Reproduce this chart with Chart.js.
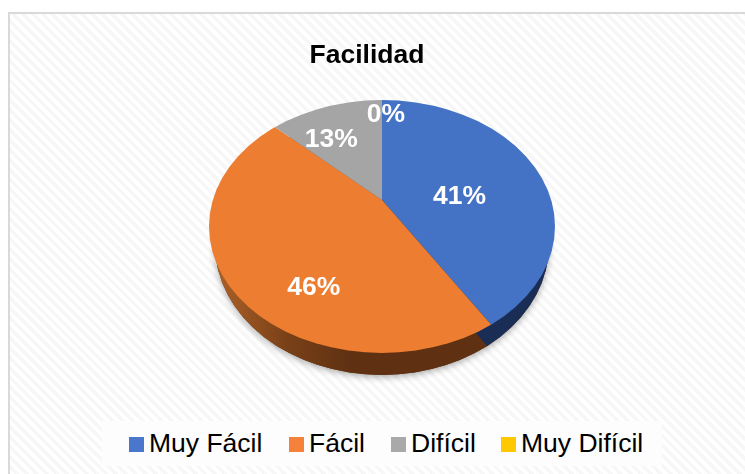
<!DOCTYPE html>
<html lang="es">
<head>
<meta charset="utf-8">
<style>
  html,body{margin:0;padding:0;background:#fff;width:745px;height:474px;overflow:hidden;}
  #frame{position:absolute;left:8px;top:12px;width:737px;height:462px;box-sizing:border-box;
    border-left:2px solid #d9d9d9;border-top:2px solid #d9d9d9;
    background:repeating-linear-gradient(45deg,#ffffff 0,#ffffff 3.5px,#f7f7f7 3.5px,#f7f7f7 7px);}
  canvas{position:absolute;left:0;top:0;}
  #legend{position:absolute;left:102px;top:421px;width:560px;height:45px;background:#fdfdfd;
    font:26.5px "Liberation Sans",Arial,sans-serif;color:#000;}
  #legend span.item{position:absolute;top:0;height:45px;line-height:45px;white-space:nowrap;}
  #legend i{position:absolute;top:16px;left:0;width:15px;height:15px;}
  #legend b{font-weight:400;position:absolute;left:20px;top:0;}
</style>
<script src="https://cdn.jsdelivr.net/npm/chart.js@4"></script>
</head>
<body>
<div id="frame"></div>
<canvas id="c" width="745" height="474"></canvas>
<div id="legend"></div>
<script>
const titleText = "Facilidad";
const categories = ["Muy Fácil", "Fácil", "Difícil", "Muy Difícil"];
const values = [41, 46, 13, 0];
const percentLabels = ["41%", "46%", "13%", "0%"];
const colors = ["#4472C4", "#ED7D31", "#A5A5A5", "#FFC000"];
const legendColors = ["#4A76CC", "#F5813A", "#A9A9A9", "#FFC800"];
const legendLeft = [27, 187, 289, 399];

const APEX = {x: 382, y: 200};          // screen position of the slices' tip
const SQUASH = 0.725;                   // view-tilt of the disc
const REACH = 255;                      // on-screen radius before clipping to the rim
const TOP_RIM = {x: 382, y: 226.5, rx: 173, ry: 126.5};
const LOW_RIM = {x: 382, y: 245, rx: 167, ry: 130};
const LOW_APEX = {x: 381, y: 225};
const labelNudge = [[-45, 22], [30, 29], [0, 25], [4, 7]]; // from 0.5-radius spot

function tilt(ctx, arc, apex) {
  const s = REACH / arc.outerRadius;
  ctx.translate(apex.x, apex.y);
  ctx.scale(s, s * SQUASH);
  ctx.translate(-arc.x, -arc.y);
}
function rimPath(ctx, r) {
  ctx.beginPath();
  ctx.ellipse(r.x, r.y, r.rx, r.ry, 0, 0, Math.PI * 2);
}

const disc3d = {
  id: "disc3d",
  beforeDatasetsDraw(chart) {
    const ctx = chart.ctx, arcs = chart.getDatasetMeta(0).data, a0 = arcs[0];
    // soft shadow under the disc
    ctx.save();
    ctx.shadowColor = "rgba(0,0,0,0.35)";
    ctx.shadowBlur = 7;
    ctx.shadowOffsetY = 2;
    ctx.fillStyle = "#5f3112";
    rimPath(ctx, LOW_RIM);
    ctx.fill();
    ctx.restore();
    // side wall: the same arcs, darker, pushed down
    const s = REACH / a0.outerRadius;
    const toUser = x => a0.x + (x - LOW_APEX.x) / s;
    ctx.save();
    rimPath(ctx, LOW_RIM);
    ctx.clip();
    tilt(ctx, a0, LOW_APEX);
    const orange = ctx.createLinearGradient(toUser(222), 0, toUser(350), 0);
    orange.addColorStop(0, "#A85E26");
    orange.addColorStop(0.5, "#7A4118");
    orange.addColorStop(1, "#5F3112");
    const sides = ["#1A2E55", orange, "#5F5F5F", "#7F6000"];
    arcs.forEach((arc, i) => {
      const real = arc.options, o = Object.create(real);
      o.backgroundColor = sides[i];
      arc.options = o;
      arc.draw(ctx);
      arc.options = real;
    });
    ctx.restore();
    // top face: the library's own drawing, tilted and clipped to the rim
    ctx.save();
    rimPath(ctx, TOP_RIM);
    ctx.clip();
    tilt(ctx, a0, APEX);
  },
  afterDatasetsDraw(chart) {
    const ctx = chart.ctx, arcs = chart.getDatasetMeta(0).data;
    ctx.restore();
    ctx.save();
    ctx.font = 'bold 26.5px "Liberation Sans", Arial, sans-serif';
    ctx.fillStyle = "#fff";
    ctx.textAlign = "center";
    ctx.textBaseline = "middle";
    arcs.forEach((arc, i) => {
      const mid = (arc.startAngle + arc.endAngle) / 2;
      const x = APEX.x + Math.cos(mid) * REACH * 0.5 + labelNudge[i][0];
      const y = APEX.y + Math.sin(mid) * REACH * SQUASH * 0.5 + labelNudge[i][1];
      ctx.fillText(percentLabels[i], x, y);
    });
    ctx.restore();
  }
};

new Chart(document.getElementById("c"), {
  type: "pie",
  data: {
    labels: categories,
    datasets: [{data: values, backgroundColor: colors, borderWidth: 0, hoverOffset: 0}]
  },
  options: {
    responsive: false,
    animation: false,
    layout: {padding: {right: 11}},
    plugins: {
      legend: {display: false},
      tooltip: {enabled: false},
      title: {
        display: true,
        text: titleText,
        color: "#000",
        font: {family: '"Liberation Sans", Arial, sans-serif', size: 26.5, weight: "bold"},
        padding: {top: 40, bottom: 10}
      }
    }
  },
  plugins: [disc3d]
});

const legend = document.getElementById("legend");
categories.forEach((name, i) => {
  const item = document.createElement("span");
  item.className = "item";
  item.style.left = legendLeft[i] + "px";
  const box = document.createElement("i");
  box.style.background = legendColors[i];
  const txt = document.createElement("b");
  txt.textContent = name;
  item.append(box, txt);
  legend.append(item);
});
</script>
</body>
</html>
